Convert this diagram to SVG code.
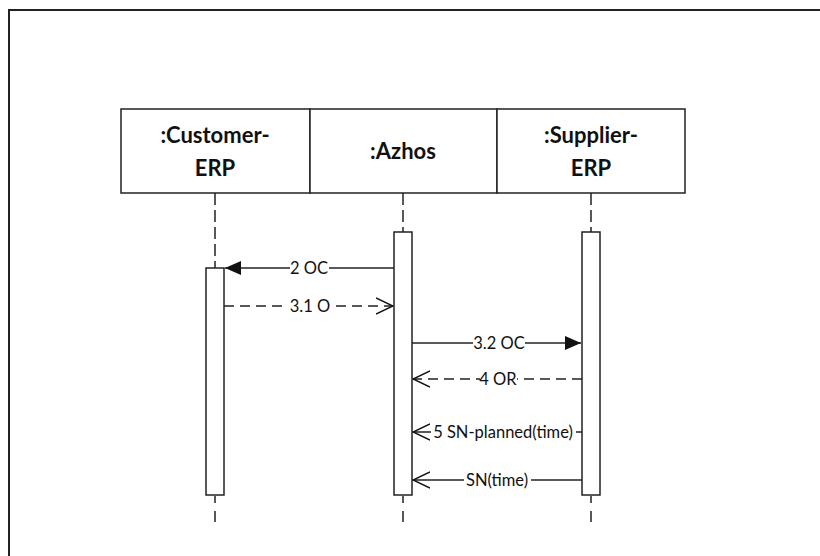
<svg xmlns="http://www.w3.org/2000/svg" width="820" height="556" viewBox="0 0 820 556">
<defs>
<style>
.frame{fill:none;stroke:#222;stroke-width:2}
.head{fill:#fff;stroke:#222;stroke-width:1.5}
.ht{font-family:Lato,"Liberation Sans",sans-serif;font-weight:bold;font-size:22px;fill:#111;text-anchor:middle}
.life{stroke:#222;stroke-width:1.5;stroke-dasharray:12 5;fill:none}
.lifeend{stroke:#222;stroke-width:1.5;stroke-dasharray:7 8 11 100;fill:none}
.bar{fill:#fff;stroke:#222;stroke-width:1.5}
.msg{stroke:#222;stroke-width:1.5;fill:none}
.dash{stroke-dasharray:10 6}
.lbl{font-family:Lato,"Liberation Sans",sans-serif;font-size:16.5px;fill:#111;text-anchor:middle}
.bg{fill:#fff;stroke:none}
</style>
<marker id="fill" viewBox="0 0 16 14" refX="16" refY="7" markerWidth="16" markerHeight="14" markerUnits="userSpaceOnUse" orient="auto">
<path d="M0,0 L16,7 L0,14 Z" fill="#111"/>
</marker>
<marker id="open" viewBox="0 0 18 18" refX="17" refY="9" markerWidth="18" markerHeight="18" markerUnits="userSpaceOnUse" orient="auto">
<path d="M0,1 L17,9 L0,17" fill="none" stroke="#111" stroke-width="1.5"/>
</marker>
</defs>
<rect x="0" y="0" width="820" height="556" fill="#fff"/>
<rect class="frame" x="9" y="10" width="830" height="560"/>
<g id="customer-erp">
<line class="life" x1="215" y1="193" x2="215" y2="268"/>
<line class="lifeend" x1="215" y1="496" x2="215" y2="522"/>
<rect class="head" x="121" y="109" width="189" height="84"/>
<text class="ht" x="215" y="143">:Customer-</text>
<text class="ht" x="215" y="176">ERP</text>
<rect class="bar" x="206" y="268" width="18" height="227"/>
</g>
<g id="azhos">
<line class="life" x1="403" y1="193" x2="403" y2="232"/>
<line class="lifeend" x1="403" y1="496" x2="403" y2="522"/>
<rect class="head" x="310" y="109" width="187" height="84"/>
<text class="ht" x="403" y="159">:Azhos</text>
<rect class="bar" x="394" y="232" width="18" height="263"/>
</g>
<g id="supplier-erp">
<line class="life" x1="591" y1="193" x2="591" y2="232"/>
<line class="lifeend" x1="591" y1="496" x2="591" y2="522"/>
<rect class="head" x="497" y="109" width="188" height="84"/>
<text class="ht" x="591" y="143">:Supplier-</text>
<text class="ht" x="591" y="176">ERP</text>
<rect class="bar" x="582" y="232" width="18" height="263"/>
</g>
<g id="connectors">
<line class="msg" x1="394" y1="268" x2="225" y2="268" marker-end="url(#fill)"/>
<rect class="bg" x="290" y="259" width="39" height="18"/>
<text class="lbl" x="309" y="274">2 OC</text>
<line class="msg dash" x1="224" y1="306" x2="393" y2="306" marker-end="url(#open)"/>
<rect class="bg" x="288" y="297" width="44" height="18"/>
<text class="lbl" x="310" y="312">3.1 O</text>
<line class="msg" x1="412" y1="343" x2="581" y2="343" marker-end="url(#fill)"/>
<rect class="bg" x="473" y="334" width="52" height="18"/>
<text class="lbl" x="499" y="349">3.2 OC</text>
<line class="msg dash" x1="582" y1="379" x2="413" y2="379" marker-end="url(#open)"/>
<rect class="bg" x="480" y="370" width="37" height="18"/>
<text class="lbl" x="498" y="385">4 OR</text>
<line class="msg" x1="582" y1="432" x2="413" y2="432" marker-end="url(#open)"/>
<rect class="bg" x="431" y="423" width="145" height="18"/>
<text class="lbl" x="503" y="438">5 SN-planned(time)</text>
<line class="msg" x1="582" y1="480" x2="413" y2="480" marker-end="url(#open)"/>
<rect class="bg" x="464" y="471" width="67" height="18"/>
<text class="lbl" x="497" y="486">SN(time)</text>
</g>
</svg>
